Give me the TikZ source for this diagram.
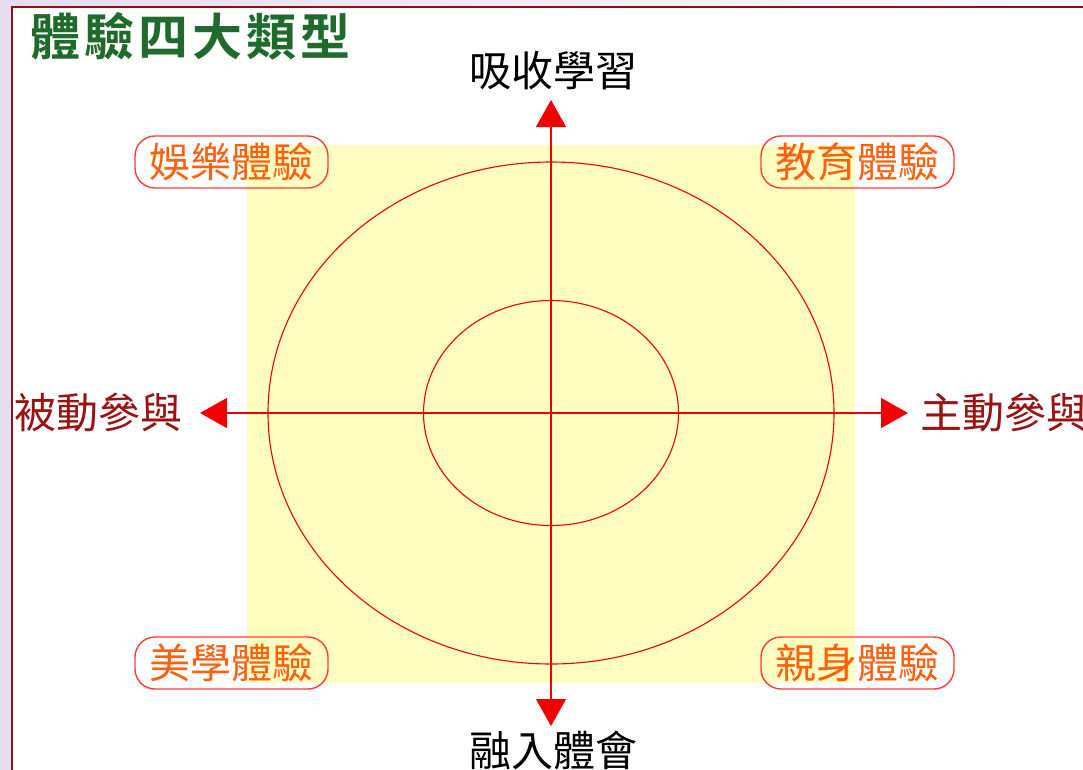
\documentclass[tikz,border=0pt]{standalone}
\usepackage{fontspec}
\newfontfamily\cjk{Noto Sans CJK TC}
\newfontfamily\cjkbold{Noto Sans CJK TC Bold}
\usetikzlibrary{arrows.meta}
\definecolor{framered}{HTML}{8E1010}
\definecolor{lav}{HTML}{E6DDF0}
\definecolor{ylw}{HTML}{FFFDC0}
\definecolor{axred}{HTML}{F00000}
\definecolor{boxred}{HTML}{FF3A3A}
\definecolor{orng}{HTML}{FF6010}
\definecolor{darkred}{HTML}{9A1212}
\definecolor{ttlgreen}{HTML}{1E6B2C}
\tikzset{
  axis/.style={draw=axred, line width=1.5pt, -{Triangle[width=30pt,length=27pt,fill=axred]}},
  ring/.style={draw=axred, line width=1.1pt},
  quad/.style={draw=boxred, line width=1.4pt, rounded corners=20pt, minimum width=193pt, minimum height=52pt, text=orng, font=\cjk\fontsize{41}{43}\selectfont, inner sep=0pt},
  axlabel/.style={font=\cjk\fontsize{42}{44}\selectfont, inner sep=0pt},
}
\begin{document}
\begin{tikzpicture}[x=1pt,y=-1pt]
\useasboundingbox (0,0) rectangle (1083,769);
% background
\shade[left color=lav, right color=white!90!lav] (0,0) rectangle (1083,769);
\fill[white] (12,7) rectangle (1090,780);
\draw[framered, line width=2.4pt] (12,7) rectangle (1090,780);
% title
\node[anchor=west, inner sep=0pt, text=ttlgreen, font=\cjkbold\fontsize{50}{52}\selectfont] (title) at (30,36) {體\kern4pt驗\kern4pt四\kern4pt大\kern4pt類\kern4pt型};
% yellow square
\fill[ylw] (247,145) rectangle (855,683);
% ellipses
\coordinate (c) at (551,413);
\draw[ring] (c) ellipse [x radius=283, y radius=251];
\draw[ring] (c) ellipse [x radius=127.5, y radius=112.5];
% axes
\coordinate (top) at (551,100);
\coordinate (bot) at (551,726);
\coordinate (lft) at (200,413);
\coordinate (rgt) at (908,413);
\draw[axis] (c) -- (top);
\draw[axis] (c) -- (bot);
\draw[axis] (c) -- (lft);
\draw[axis] (c) -- (rgt);
% axis labels
\node[axlabel, text=black] (learn) at (553,71) {吸收學習};
\node[axlabel, text=black] (immerse) at (553,751) {融入體會};
\node[axlabel, text=darkred, anchor=west] (passive) at (14,413) {被動參與};
\node[axlabel, text=darkred, anchor=west] (active) at (920,413) {主動參與};
% quadrant boxes
\node[quad] (ent) at (231.5,162) {娛樂體驗};
\node[quad] (edu) at (857.5,162) {教育體驗};
\node[quad] (aes) at (231.5,663) {美學體驗};
\node[quad] (esc) at (857.5,663) {親身體驗};
\end{tikzpicture}
\end{document}
